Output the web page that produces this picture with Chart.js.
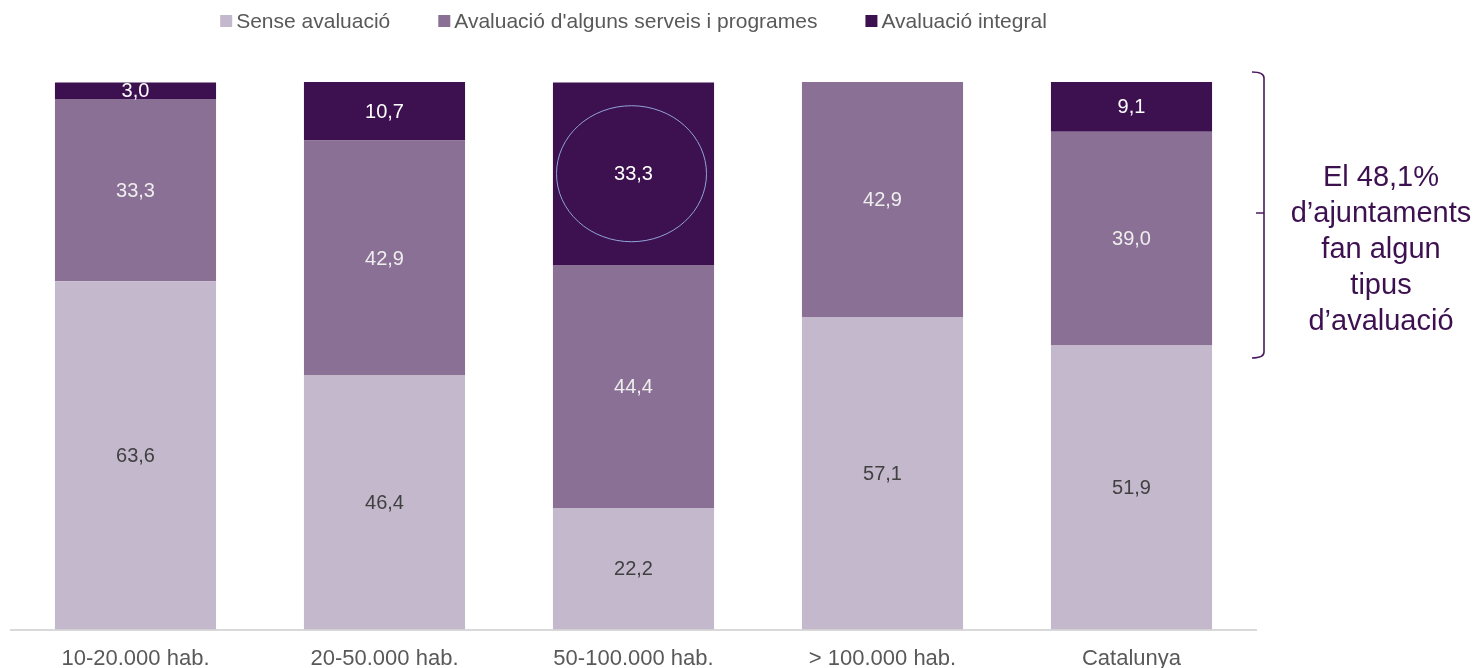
<!DOCTYPE html>
<html>
<head>
<meta charset="utf-8">
<script src="https://cdn.jsdelivr.net/npm/chart.js@4"></script>
<style>
    html, body { margin: 0; padding: 0; background: #fff; }
    #wrap { width: 1478px; height: 668px; }
</style>
</head>
<body>
<div id="wrap"><canvas id="evalChart"></canvas></div>
<script>
// データ
const categories = ['10-20.000 hab.', '20-50.000 hab.', '50-100.000 hab.', '> 100.000 hab.', 'Catalunya'];
const senseAvaluacio = [63.6, 46.4, 22.2, 57.1, 51.9];
const algunsServeis = [33.3, 42.9, 44.4, 42.9, 39.0];
const avaluacioIntegral = [3.0, 10.7, 33.3, 0, 9.1];
const noteLines = ['El 48,1%', 'd\u2019ajuntaments', 'fan algun', 'tipus', 'd\u2019avaluaci\u00f3'];

const FONT = '"Liberation Sans", Arial, sans-serif';
const colors = ['#C4B8CC', '#8B7096', '#3D1150'];
const labelColors = ['#404040', '#EEEEEE', '#FFFFFF'];

// 凡例（手描き）
const legendPlugin = {
    id: 'customLegend',
    afterDraw(chart) {
        const ctx = chart.ctx;
        ctx.save();
        ctx.font = '21px ' + FONT;
        ctx.textBaseline = 'middle';
        const items = chart.data.datasets.map(ds => ({ text: ds.label, color: ds.backgroundColor }));
        const gap = 48, box = 12, boxGap = 4;
        let total = 0;
        items.forEach((it, i) => {
            it.w = box + boxGap + ctx.measureText(it.text).width;
            total += it.w + (i > 0 ? gap : 0);
        });
        let x = (chart.chartArea.left + chart.chartArea.right) / 2 - total / 2;
        const y = 21;
        items.forEach(it => {
            ctx.fillStyle = it.color;
            ctx.fillRect(x, y - box / 2, box, box);
            ctx.fillStyle = '#595959';
            ctx.fillText(it.text, x + box + boxGap, y + 1);
            x += it.w + gap;
        });
        ctx.restore();
    }
};

// 値ラベル
const valueLabels = {
    id: 'valueLabels',
    afterDatasetsDraw(chart) {
        const ctx = chart.ctx;
        ctx.save();
        ctx.font = '20px ' + FONT;
        ctx.textAlign = 'center';
        ctx.textBaseline = 'middle';
        chart.data.datasets.forEach((ds, di) => {
            const meta = chart.getDatasetMeta(di);
            meta.data.forEach((bar, i) => {
                const v = ds.data[i];
                if (!v) return;
                ctx.fillStyle = labelColors[di];
                ctx.fillText(v.toFixed(1).replace('.', ','), bar.x, (bar.y + bar.base) / 2 + 1);
            });
        });

        // 50-100.000 の楕円
        const bar = chart.getDatasetMeta(2).data[2];
        ctx.strokeStyle = '#8FA3D9';
        ctx.lineWidth = 1;
        ctx.beginPath();
        ctx.ellipse(bar.x - 2, (bar.y + bar.base) / 2, 75, 68, 0, 0, Math.PI * 2);
        ctx.stroke();
        ctx.restore();
    }
};

// 右側の括弧と注記
const bracketNote = {
    id: 'bracketNote',
    afterDraw(chart) {
        const ctx = chart.ctx;
        const area = chart.chartArea;
        const bx = area.right + 8;
        const top = area.top - 10, bottom = 358, mid = 213;
        ctx.save();
        ctx.strokeStyle = '#4A1A5E';
        ctx.lineWidth = 1.6;
        ctx.beginPath();
        ctx.moveTo(bx - 12, top);
        ctx.quadraticCurveTo(bx, top, bx, top + 6);
        ctx.lineTo(bx, bottom - 6);
        ctx.quadraticCurveTo(bx, bottom, bx - 12, bottom);
        ctx.moveTo(bx, mid);
        ctx.lineTo(bx - 8, mid);
        ctx.stroke();

        ctx.fillStyle = '#3D1150';
        ctx.font = '29px ' + FONT;
        ctx.textAlign = 'center';
        ctx.textBaseline = 'middle';
        noteLines.forEach((t, i) => ctx.fillText(t, 1381, 178 + i * 36));
        ctx.restore();
    }
};

const evalChart = new Chart(
    document.getElementById('evalChart'),
    {
        type: 'bar',
        data: {
            labels: categories,
            datasets: [
                { label: 'Sense avaluació', data: senseAvaluacio, backgroundColor: colors[0] },
                { label: "Avaluació d'alguns serveis i programes", data: algunsServeis, backgroundColor: colors[1] },
                { label: 'Avaluació integral', data: avaluacioIntegral, backgroundColor: colors[2] }
            ]
        },
        options: {
            responsive: true,
            maintainAspectRatio: false,
            animation: false,
            layout: {
                padding: { top: 82, left: 11, right: 222, bottom: -20 }
            },
            datasets: {
                bar: { barPercentage: 0.647, categoryPercentage: 1, borderWidth: 0 }
            },
            plugins: {
                legend: { display: false },
                tooltip: { enabled: false }
            },
            scales: {
                x: {
                    stacked: true,
                    grid: { display: false, drawTicks: false, tickLength: 0 },
                    border: { display: true, color: '#D9D9D9', width: 2 },
                    ticks: { color: '#595959', padding: 16, font: { size: 22, family: FONT } }
                },
                y: {
                    stacked: true,
                    display: false,
                    min: 0,
                    max: 100
                }
            }
        },
        plugins: [legendPlugin, valueLabels, bracketNote]
    }
);
</script>
</body>
</html>
